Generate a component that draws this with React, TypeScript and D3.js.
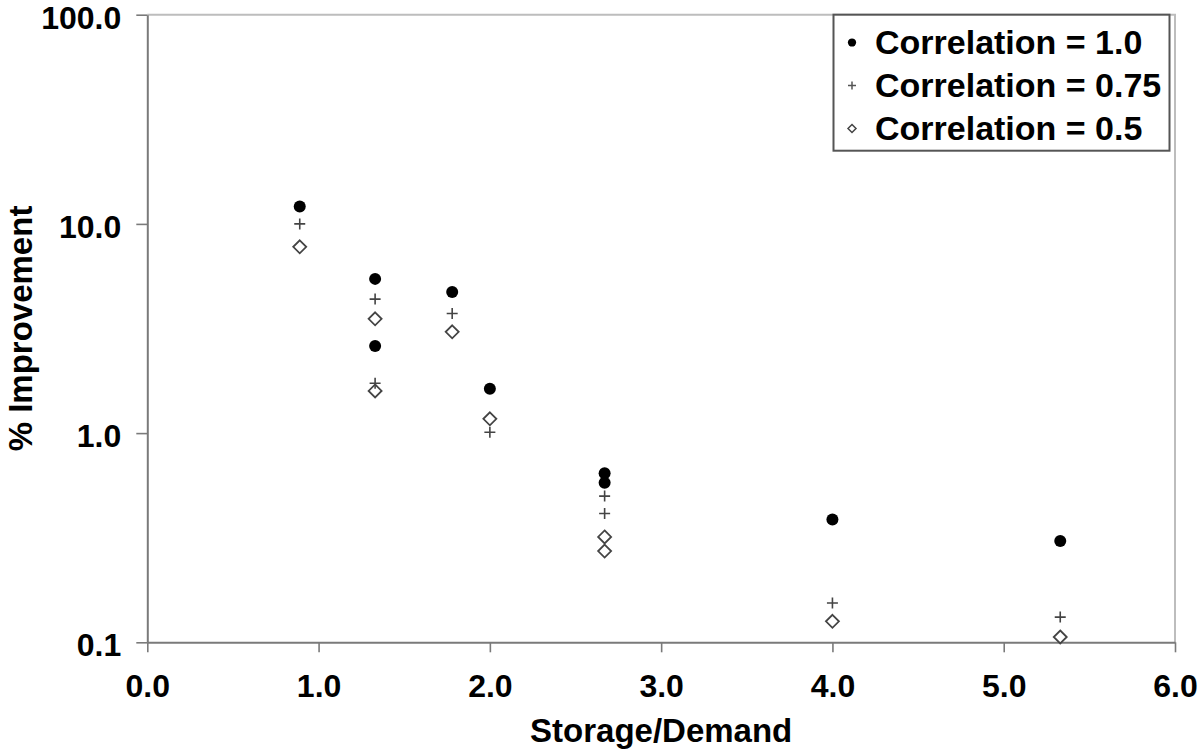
import React, { useEffect, useRef } from 'react';
import * as d3 from 'd3';

// ── Data ───────────────────────────────────────────────────────────────
const storageDemand = [0.89, 1.33, 1.33, 1.78, 2.0, 2.67, 2.67, 4.0, 5.33];
const corr100 = [12.1, 5.46, 2.61, 4.73, 1.63, 0.642, 0.579, 0.386, 0.305];
const corr075 = [10.0, 4.37, 1.73, 3.73, 1.01, 0.5, 0.413, 0.154, 0.132];
const corr050 = [7.77, 3.52, 1.59, 3.05, 1.17, 0.319, 0.273, 0.126, 0.106];

const seriesNames = ['Correlation = 1.0', 'Correlation = 0.75', 'Correlation = 0.5'];
const xTicks = [0, 1, 2, 3, 4, 5, 6];
const yTicks = [0.1, 1, 10, 100];

const FONT = '"Liberation Sans", Arial, Helvetica, sans-serif';

// custom marker shapes for d3.symbol
const plusType = {
  draw(ctx: any, size: number) {
    const r = Math.sqrt(size) / 2;
    ctx.moveTo(-r, 0);
    ctx.lineTo(r, 0);
    ctx.moveTo(0, -r);
    ctx.lineTo(0, r);
  },
};
const diamondType = {
  draw(ctx: any, size: number) {
    const r = Math.sqrt(size) / 2;
    ctx.moveTo(0, -r);
    ctx.lineTo(r, 0);
    ctx.lineTo(0, r);
    ctx.lineTo(-r, 0);
    ctx.closePath();
  },
};

const App = () => {
  const svgRef = useRef<SVGSVGElement>(null);

  useEffect(() => {
    const svg = d3.select(svgRef.current);
    svg.selectAll('*').remove();

    const left = 147.3;
    const right = 1175;
    const top = 14.7;
    const bottom = 642.3;

    const x = d3.scaleLinear().domain([0, 6]).range([left, right]);
    const y = d3.scaleLog().domain([0.1, 100]).range([bottom, top]);

    svg.style('font-family', FONT);

    // ── Frame (top/right light) ────────────────────────────────────────
    svg
      .append('path')
      .attr('d', `M${left},${top}H${right}V${bottom}`)
      .attr('fill', 'none')
      .attr('stroke', '#bdbdbd')
      .attr('stroke-width', 2);

    // ── Axes ───────────────────────────────────────────────────────────
    const yAxis = svg
      .append('g')
      .attr('transform', `translate(${left},0)`)
      .call(
        d3
          .axisLeft(y)
          .tickValues(yTicks)
          .tickFormat(d3.format('.1f'))
          .tickSize(11)
          .tickSizeOuter(0)
          .tickPadding(15),
      );
    yAxis.selectAll('.tick text').attr('dy', '0.42em');

    const xAxis = svg
      .append('g')
      .attr('transform', `translate(0,${bottom})`)
      .call(
        d3
          .axisBottom(x)
          .tickValues(xTicks)
          .tickFormat(d3.format('.1f'))
          .tickSize(10)
          .tickSizeOuter(0)
          .tickPadding(22),
      );

    [yAxis, xAxis].forEach((g) => {
      g.select('.domain').attr('stroke', '#7a7a7a').attr('stroke-width', 2);
      g.selectAll('.tick line').attr('stroke', '#7a7a7a').attr('stroke-width', 1.6);
      g.selectAll('.tick text')
        .attr('fill', '#000')
        .style('font-family', FONT)
        .style('font-size', '32px')
        .style('font-weight', 'bold');
    });

    // ── Axis titles ────────────────────────────────────────────────────
    svg
      .append('text')
      .attr('x', (left + right) / 2)
      .attr('y', 742)
      .attr('text-anchor', 'middle')
      .style('font-size', '33px')
      .style('font-weight', 'bold')
      .text('Storage/Demand');

    svg
      .append('text')
      .attr('transform', `translate(32,${(top + bottom) / 2}) rotate(-90)`)
      .attr('text-anchor', 'middle')
      .style('font-size', '33px')
      .style('font-weight', 'bold')
      .text('% Improvement');

    // ── Points ─────────────────────────────────────────────────────────
    const circle = d3.symbol().type(d3.symbolCircle).size(Math.PI * 36);
    const plus = d3.symbol().type(plusType as any).size(121);
    const diamond = d3.symbol().type(diamondType as any).size(169);

    const pts = svg.append('g');

    pts
      .selectAll('path.c050')
      .data(corr050)
      .join('path')
      .attr('class', 'c050')
      .attr('transform', (d, i) => `translate(${x(storageDemand[i])},${y(d)})`)
      .attr('d', diamond() as string)
      .attr('fill', '#fff')
      .attr('stroke', '#444')
      .attr('stroke-width', 1.8);

    pts
      .selectAll('path.c075')
      .data(corr075)
      .join('path')
      .attr('class', 'c075')
      .attr('transform', (d, i) => `translate(${x(storageDemand[i])},${y(d)})`)
      .attr('d', plus() as string)
      .attr('fill', 'none')
      .attr('stroke', '#444')
      .attr('stroke-width', 1.6);

    pts
      .selectAll('path.c100')
      .data(corr100)
      .join('path')
      .attr('class', 'c100')
      .attr('transform', (d, i) => `translate(${x(storageDemand[i])},${y(d)})`)
      .attr('d', circle() as string)
      .attr('fill', '#000');

    // ── Legend ─────────────────────────────────────────────────────────
    const legend = svg.append('g');
    legend
      .append('rect')
      .attr('x', 833.5)
      .attr('y', top)
      .attr('width', 336)
      .attr('height', 136)
      .attr('fill', '#fff')
      .attr('stroke', '#555')
      .attr('stroke-width', 2);

    const legendMarks = [
      { d: d3.symbol().type(d3.symbolCircle).size(Math.PI * 17)(), fill: '#000', stroke: 'none' },
      { d: d3.symbol().type(plusType as any).size(64)(), fill: 'none', stroke: '#555' },
      { d: d3.symbol().type(diamondType as any).size(64)(), fill: '#fff', stroke: '#444' },
    ];

    seriesNames.forEach((name, i) => {
      const rowY = 42.5 + i * 43;
      legend
        .append('path')
        .attr('transform', `translate(852,${rowY})`)
        .attr('d', legendMarks[i].d as string)
        .attr('fill', legendMarks[i].fill)
        .attr('stroke', legendMarks[i].stroke)
        .attr('stroke-width', 1.5);
      legend
        .append('text')
        .attr('x', 875)
        .attr('y', rowY + 11)
        .style('font-size', '34px')
        .style('font-weight', 'bold')
        .text(name);
    });
  }, []);

  return (
    <svg
      ref={svgRef}
      width={1200}
      height={753}
      style={{ position: 'absolute', left: 0, top: 0, background: '#fff' }}
    />
  );
};

export default App;
